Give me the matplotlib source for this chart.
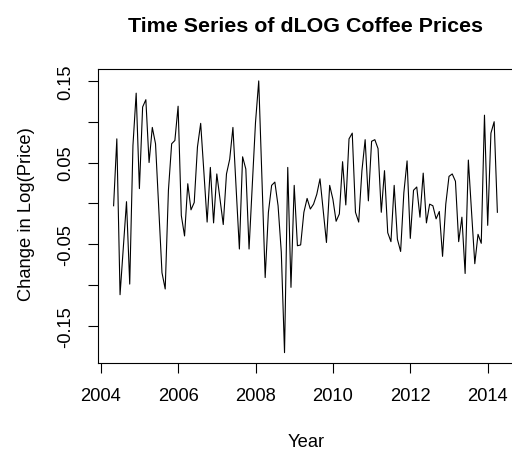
import matplotlib
matplotlib.use("Agg")
import matplotlib.pyplot as plt
import numpy as np

plt.rcParams['font.family'] = ['Liberation Sans', 'DejaVu Sans']

# Monthly series: May 2004 .. Apr 2014
start_year = 2004
start_month = 5
dlog_price = [
    -0.003, 0.079, -0.112, -0.055, 0.002, -0.099, 0.071, 0.135, 0.018, 0.118,
    0.127, 0.050, 0.093, 0.073, -0.006, -0.085, -0.105, 0.016, 0.073, 0.077,
    0.119, -0.015, -0.040, 0.024, -0.008, 0.001, 0.069, 0.098, 0.038, -0.023,
    0.044, -0.024, 0.036, 0.005, -0.026, 0.036, 0.054, 0.093, 0.018, -0.056,
    0.057, 0.042, -0.056, 0.022, 0.099, 0.150, 0.030, -0.091, -0.011, 0.022,
    0.026, -0.003, -0.060, -0.183, 0.044, -0.103, 0.022, -0.052, -0.051, -0.011,
    0.006, -0.007, -0.001, 0.011, 0.030, -0.009, -0.048, 0.022, 0.005, -0.022,
    -0.013, 0.051, -0.002, 0.079, 0.086, -0.011, -0.023, 0.040, 0.078, 0.003,
    0.076, 0.078, 0.067, -0.011, 0.040, -0.036, -0.047, 0.022, -0.044, -0.059,
    0.013, 0.052, -0.043, 0.016, 0.020, -0.017, 0.037, -0.024, -0.001, -0.003,
    -0.019, -0.010, -0.065, -0.001, 0.033, 0.036, 0.027, -0.047, -0.017, -0.086,
    0.053, -0.011, -0.074, -0.038, -0.049, 0.108, -0.027, 0.086, 0.100, -0.011,
]
x_ticks = [2004, 2006, 2008, 2010, 2012, 2014]
y_ticks = [-0.15, -0.10, -0.05, 0.0, 0.05, 0.10, 0.15]
y_tick_labels = ["-0.15", "", "-0.05", "", "0.05", "", "0.15"]

y = np.array(dlog_price)
t = start_year + (start_month - 1) / 12 + np.arange(len(y)) / 12

W, H = 512, 452
fig = plt.figure(figsize=(W / 100, H / 100), dpi=100)

# R-style 4% axis extension
span = t[-1] - t[0]
xlim = (t[0] - 0.04 * span, t[-1] + 0.04 * span)
px_per_year = 38.7
x2004_px = 100.7
left_px = x2004_px + (xlim[0] - 2004) * px_per_year
width_px = (xlim[1] - xlim[0]) * px_per_year
top_px, bottom_px = 70, 364
ax = fig.add_axes([left_px / W, 1 - bottom_px / H, width_px / W, (bottom_px - top_px) / H])

ax.plot(t, y, color='black', lw=0.8)
ax.set_xlim(*xlim)
ax.set_ylim(-0.1957, 0.1646)

ax.set_xticks(x_ticks)
ax.set_xticklabels([str(v) for v in x_ticks])
ax.set_yticks(y_ticks)
ax.set_yticklabels(y_tick_labels, rotation=90, va='center')

for s in ax.spines.values():
    s.set_linewidth(0.8)
ax.spines['right'].set_visible(False)
ax.tick_params(direction='out', length=7.5, width=0.8, labelsize=13.2, color='black')
ax.tick_params(axis='x', pad=10)
ax.tick_params(axis='y', pad=10)

fig.text(305 / W, 1 - 27 / H, "Time Series of dLOG Coffee Prices",
         ha='center', va='center', fontsize=15.4, fontweight='bold')
fig.text(306 / W, 1 - 443 / H, "Year", ha='center', va='center', fontsize=13.2)
fig.text(27 / W, 1 - 214 / H, "Change in Log(Price)", ha='center', va='center',
         rotation=90, fontsize=13.2)

fig.savefig("out.png", dpi=100)
